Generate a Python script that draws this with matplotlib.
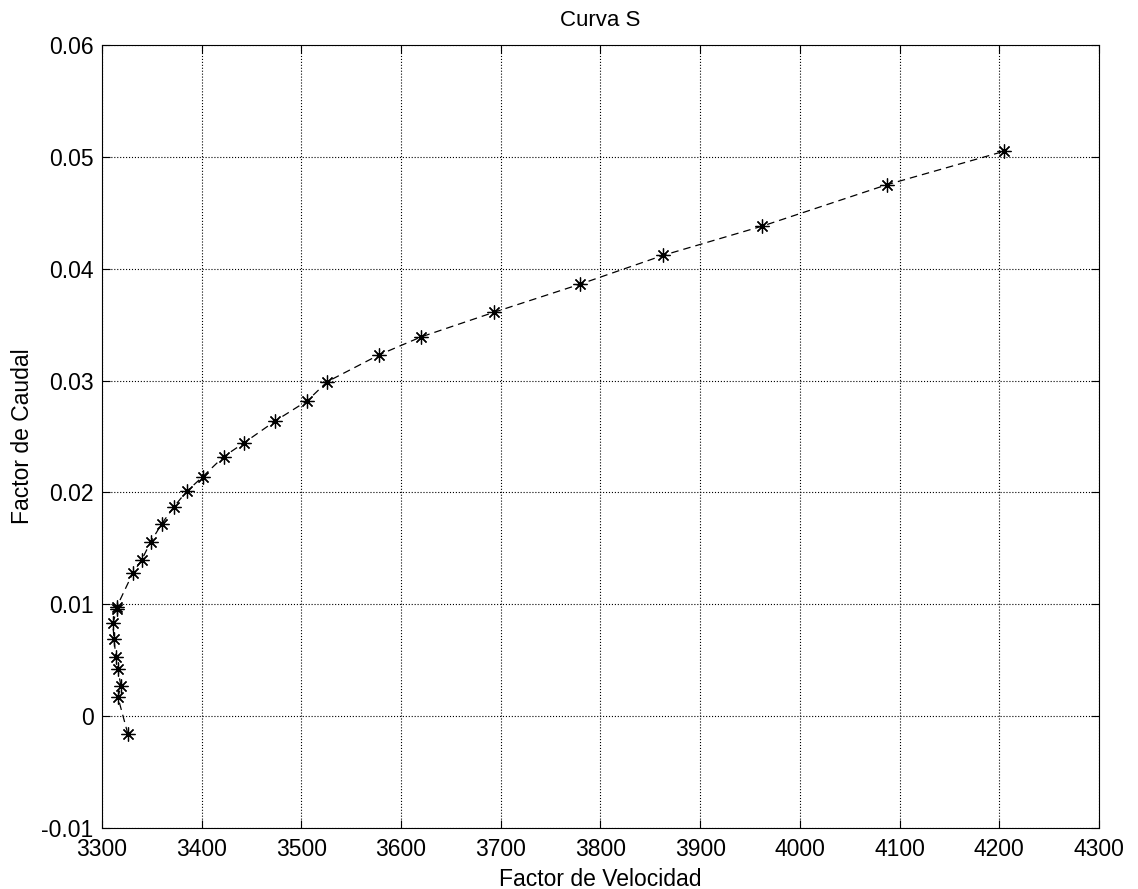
import matplotlib.pyplot as plt

factorVelocidad = [3326, 3316, 3319, 3316, 3314, 3312, 3311, 3315, 3315, 3331,
                   3340, 3349, 3360, 3372, 3385, 3401, 3422, 3442, 3474, 3506,
                   3526, 3578, 3620, 3693, 3779, 3863, 3962, 4087, 4205]
factorCaudal = [-0.0016, 0.0017, 0.0027, 0.0042, 0.0053, 0.0069, 0.0083, 0.0096, 0.0098, 0.0128,
                0.0140, 0.0156, 0.0172, 0.0187, 0.0201, 0.0214, 0.0232, 0.0244, 0.0264, 0.0282,
                0.0299, 0.0323, 0.0339, 0.0361, 0.0386, 0.0412, 0.0438, 0.0475, 0.0505]
xTicks = [3300, 3400, 3500, 3600, 3700, 3800, 3900, 4000, 4100, 4200, 4300]
yTicks = [-0.01, 0, 0.01, 0.02, 0.03, 0.04, 0.05, 0.06]
yLabels = ['-0.01', '0', '0.01', '0.02', '0.03', '0.04', '0.05', '0.06']

plt.rcParams['font.family'] = ['Liberation Sans', 'DejaVu Sans']

fig = plt.figure(figsize=(11.38, 8.89), dpi=100)
ax = fig.add_axes([0.0896, 0.0686, 0.8761, 0.8808])

ax.plot(factorVelocidad, factorCaudal, color='black', linestyle='--', linewidth=0.9,
        dashes=(6, 4), marker=(8, 2, 0), markersize=10, markeredgewidth=0.9)

ax.set_xlim(3300, 4300)
ax.set_ylim(-0.01, 0.06)
ax.set_xticks(xTicks)
ax.set_yticks(yTicks)
ax.set_yticklabels(yLabels)
ax.tick_params(direction='in', top=True, right=True, labelsize=16.5, length=6)
ax.tick_params(axis='x', pad=7)
ax.tick_params(axis='y', pad=6)
ax.grid(True, color='black', linestyle=':', linewidth=0.8)
for s in ax.spines.values():
    s.set_linewidth(0.8)

ax.set_xlabel('Factor de Velocidad', fontsize=16.5, labelpad=5)
ax.set_ylabel('Factor de Caudal', fontsize=16.5, labelpad=5)
ax.set_title('Curva S', fontsize=16, pad=14)

plt.savefig('out.png', dpi=100)
